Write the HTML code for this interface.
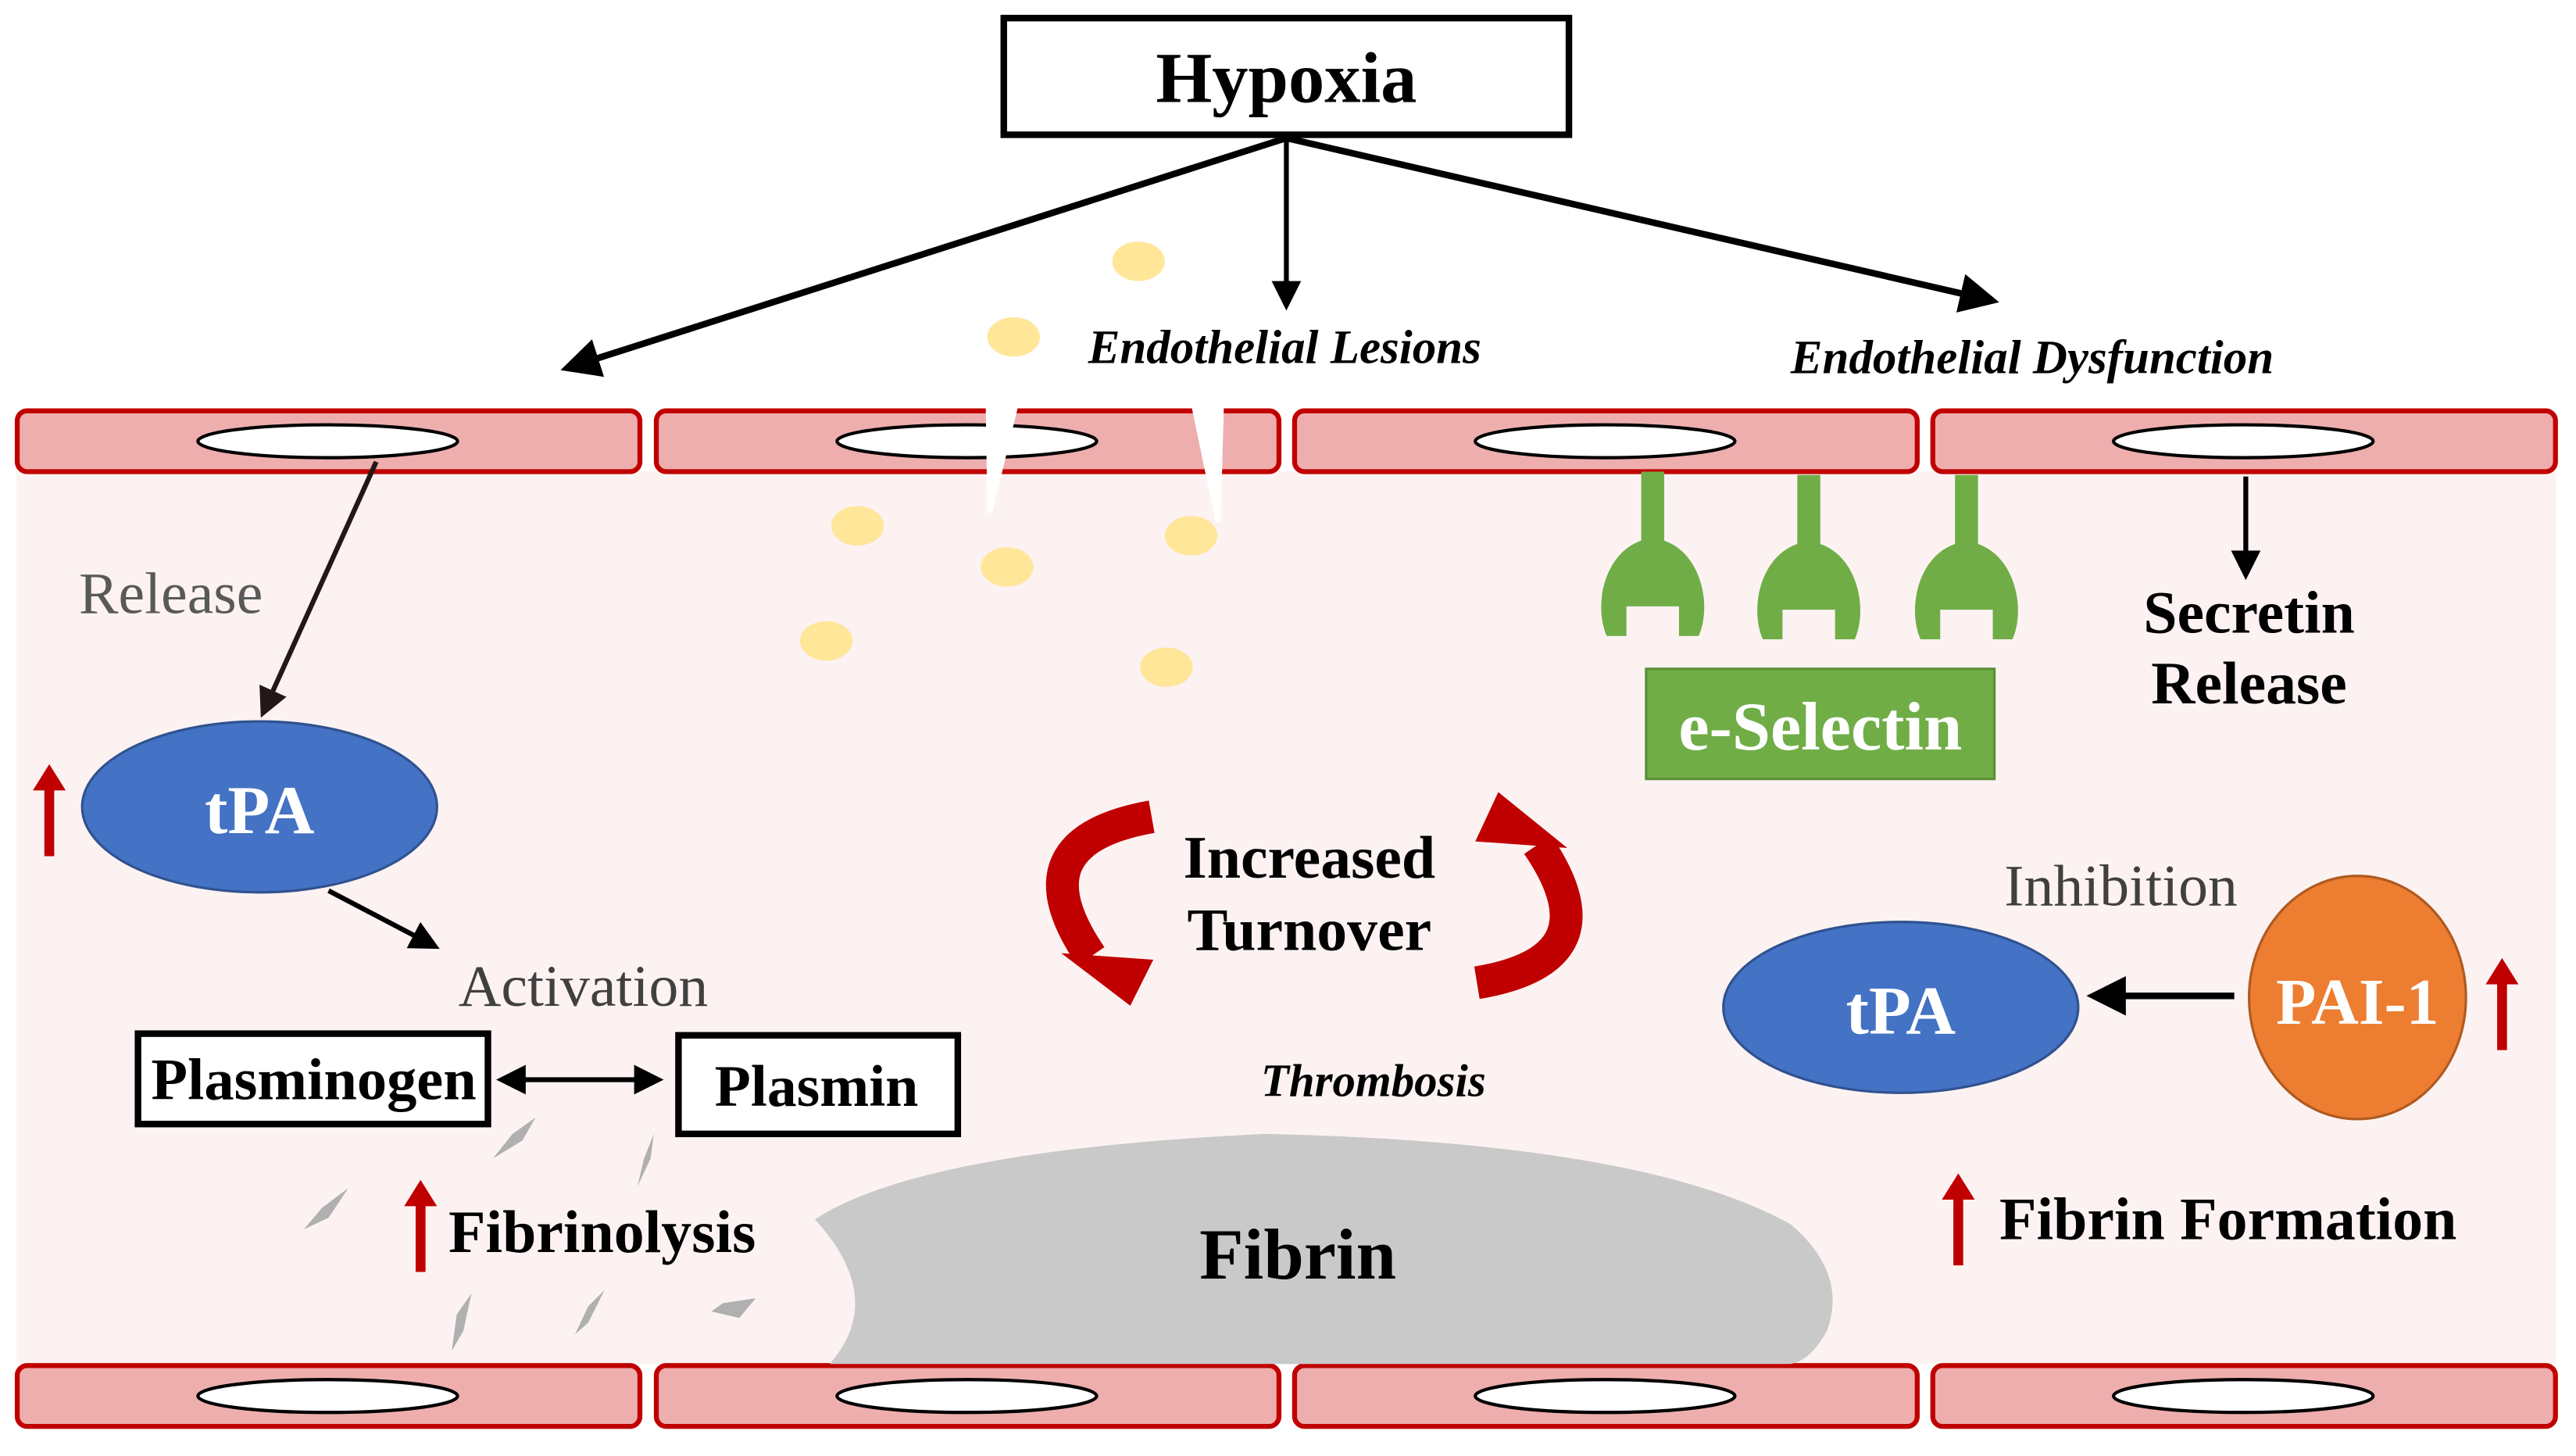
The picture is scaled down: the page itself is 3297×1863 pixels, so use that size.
<!DOCTYPE html>
<html><head><meta charset="utf-8"><style>html,body{margin:0;padding:0;background:#fff}svg{display:block}</style></head>
<body>
<svg xmlns="http://www.w3.org/2000/svg" width="3297" height="1863" viewBox="0 0 1568 886" font-family="Liberation Serif, serif">
<defs>
<marker id="ah" markerWidth="6" markerHeight="6" refX="5" refY="3" orient="auto" markerUnits="strokeWidth"><path d="M0,0 L6,3 L0,6 Z" fill="#000"/></marker>
<marker id="ah2" markerWidth="6" markerHeight="6" refX="5" refY="3" orient="auto" markerUnits="strokeWidth"><path d="M0,0 L6,3 L0,6 Z" fill="#231815"/></marker>
<marker id="ahs" markerWidth="6" markerHeight="6" refX="1" refY="3" orient="auto" markerUnits="strokeWidth"><path d="M6,0 L0,3 L6,6 Z" fill="#000"/></marker>
<g id="cell"><rect x="0" y="0" width="379" height="37" rx="6" fill="#eeaeae" stroke="#c00000" stroke-width="3"/><ellipse cx="189" cy="18.5" rx="79" ry="10" fill="#fff" stroke="#000" stroke-width="2"/></g>
<g id="up"><rect x="-3" y="14" width="6" height="42" fill="#c00000"/><path d="M-10,16 L0,0 L10,16 Z" fill="#c00000"/></g>
<g id="rec"><rect x="-7" y="0" width="14" height="44" fill="#70ad47"/><path d="M-7,42 C-30,50 -36,82 -28,100 L-16,100 L-16,82 L16,82 L16,100 L28,100 C36,82 30,50 7,42 Z" fill="#70ad47"/></g>
</defs>
<rect x="10" y="287" width="1546" height="543" fill="#fdf2f2"/>
<rect x="611" y="11" width="344" height="71" fill="#fff" stroke="#000" stroke-width="4"/>
<text x="783" y="62" text-anchor="middle" font-size="44" font-weight="bold">Hypoxia</text>
<line x1="783" y1="84" x2="345" y2="224" stroke="#000" stroke-width="4" marker-end="url(#ah)"/>
<line x1="783" y1="84" x2="783" y2="186" stroke="#000" stroke-width="3" marker-end="url(#ah)"/>
<line x1="783" y1="84" x2="1213" y2="183" stroke="#000" stroke-width="4" marker-end="url(#ah)"/>
<text x="782" y="221" text-anchor="middle" font-size="29" font-weight="bold" font-style="italic">Endothelial Lesions</text>
<text x="1237" y="227" text-anchor="middle" font-size="29" font-weight="bold" font-style="italic">Endothelial Dysfunction</text>
<use href="#cell" x="10.5" y="250"/><use href="#cell" x="399.5" y="250"/><use href="#cell" x="788" y="250"/><use href="#cell" x="1176.5" y="250"/>
<use href="#cell" x="10.5" y="831"/><use href="#cell" x="399.5" y="831"/><use href="#cell" x="788" y="831"/><use href="#cell" x="1176.5" y="831"/>
<polygon points="600,246 620,246 604,312 601,312" fill="#fff"/>
<polygon points="725,246 745,246 743,318 740,318" fill="#fff"/>
<g fill="#ffe699"><ellipse cx="693" cy="159" rx="16" ry="12"/><ellipse cx="617" cy="205" rx="16" ry="12"/><ellipse cx="522" cy="320" rx="16" ry="12"/><ellipse cx="613" cy="345" rx="16" ry="12"/><ellipse cx="725" cy="326" rx="16" ry="12"/><ellipse cx="503" cy="390" rx="16" ry="12"/><ellipse cx="710" cy="406" rx="16" ry="12"/></g>
<line x1="229" y1="281" x2="160" y2="434" stroke="#231815" stroke-width="3" marker-end="url(#ah2)"/>
<text x="104" y="373" text-anchor="middle" font-size="36" fill="#595959">Release</text>
<ellipse cx="158" cy="491" rx="108" ry="52" fill="#4472c4" stroke="#2f528f" stroke-width="1.5"/>
<text x="158" y="507" text-anchor="middle" font-size="42" font-weight="bold" fill="#fff">tPA</text>
<use href="#up" x="30" y="465"/>
<line x1="200" y1="542" x2="265" y2="576" stroke="#000" stroke-width="3" marker-end="url(#ah)"/>
<text x="355" y="612" text-anchor="middle" font-size="36" fill="#404040">Activation</text>
<rect x="84" y="629" width="213" height="55" fill="#fff" stroke="#000" stroke-width="4"/>
<text x="191" y="669" text-anchor="middle" font-size="36" font-weight="bold" textLength="198" lengthAdjust="spacingAndGlyphs">Plasminogen</text>
<rect x="413" y="630" width="170" height="60" fill="#fff" stroke="#000" stroke-width="4"/>
<text x="497" y="673" text-anchor="middle" font-size="36" font-weight="bold">Plasmin</text>
<line x1="305" y1="657" x2="401" y2="657" stroke="#000" stroke-width="3" marker-start="url(#ahs)" marker-end="url(#ah)"/>
<g fill="#b0b0b0"><polygon points="326,680 318,694 300,705 312,690"/><polygon points="398,690 396,705 388,722 392,705"/><polygon points="212,723 200,741 185,748 196,735"/><polygon points="287,787 282,810 275,822 278,800"/><polygon points="368,785 358,805 350,812 358,795"/><polygon points="460,790 450,802 433,798 440,793"/></g>
<use href="#up" x="256" y="718"/>
<text x="273" y="762" font-size="37" font-weight="bold">Fibrinolysis</text>
<path d="M496,742 Q560,700 770,690 Q1000,695 1090,745 Q1125,775 1112,810 Q1102,828 1090,830 L505,830 Q540,790 496,742 Z" fill="#c9c9c9"/>
<text x="790" y="778" text-anchor="middle" font-size="44" font-weight="bold">Fibrin</text>
<path d="M701,497 Q616,512 664,582" fill="none" stroke="#c00000" stroke-width="20"/>
<polygon points="646,580 702,584 688,612" fill="#c00000"/>
<path d="M899,598 Q984,584 936,514" fill="none" stroke="#c00000" stroke-width="20"/>
<polygon points="954,516 898,512 912,482" fill="#c00000"/>
<text x="797" y="534" text-anchor="middle" font-size="37" font-weight="bold">Increased</text>
<text x="797" y="578" text-anchor="middle" font-size="37" font-weight="bold">Turnover</text>
<text x="836" y="667" text-anchor="middle" font-size="28" font-weight="bold" font-style="italic">Thrombosis</text>
<use href="#rec" x="1006" y="287"/><use href="#rec" x="1101" y="289"/><use href="#rec" x="1197" y="289"/>
<rect x="1002" y="407" width="212" height="67" fill="#70ad47" stroke="#5a8f38" stroke-width="1.5"/>
<text x="1108" y="456" text-anchor="middle" font-size="42" font-weight="bold" fill="#fff">e-Selectin</text>
<line x1="1367" y1="290" x2="1367" y2="350" stroke="#000" stroke-width="3" marker-end="url(#ah)"/>
<text x="1369" y="385" text-anchor="middle" font-size="37" font-weight="bold">Secretin</text>
<text x="1369" y="428" text-anchor="middle" font-size="37" font-weight="bold">Release</text>
<text x="1291" y="551" text-anchor="middle" font-size="36" fill="#404040">Inhibition</text>
<ellipse cx="1157" cy="613" rx="108" ry="52" fill="#4472c4" stroke="#2f528f" stroke-width="1.5"/>
<text x="1157" y="629" text-anchor="middle" font-size="42" font-weight="bold" fill="#fff">tPA</text>
<ellipse cx="1435" cy="607" rx="66" ry="74" fill="#ed7d31" stroke="#ae5a21" stroke-width="1.5"/>
<text x="1435" y="623" text-anchor="middle" font-size="40" font-weight="bold" fill="#fff">PAI-1</text>
<line x1="1360" y1="606" x2="1274" y2="606" stroke="#000" stroke-width="4" marker-end="url(#ah)"/>
<use href="#up" x="1523" y="583"/>
<use href="#up" x="1192" y="714"/>
<text x="1217" y="754" font-size="37" font-weight="bold">Fibrin Formation</text>
</svg>
</body></html>
